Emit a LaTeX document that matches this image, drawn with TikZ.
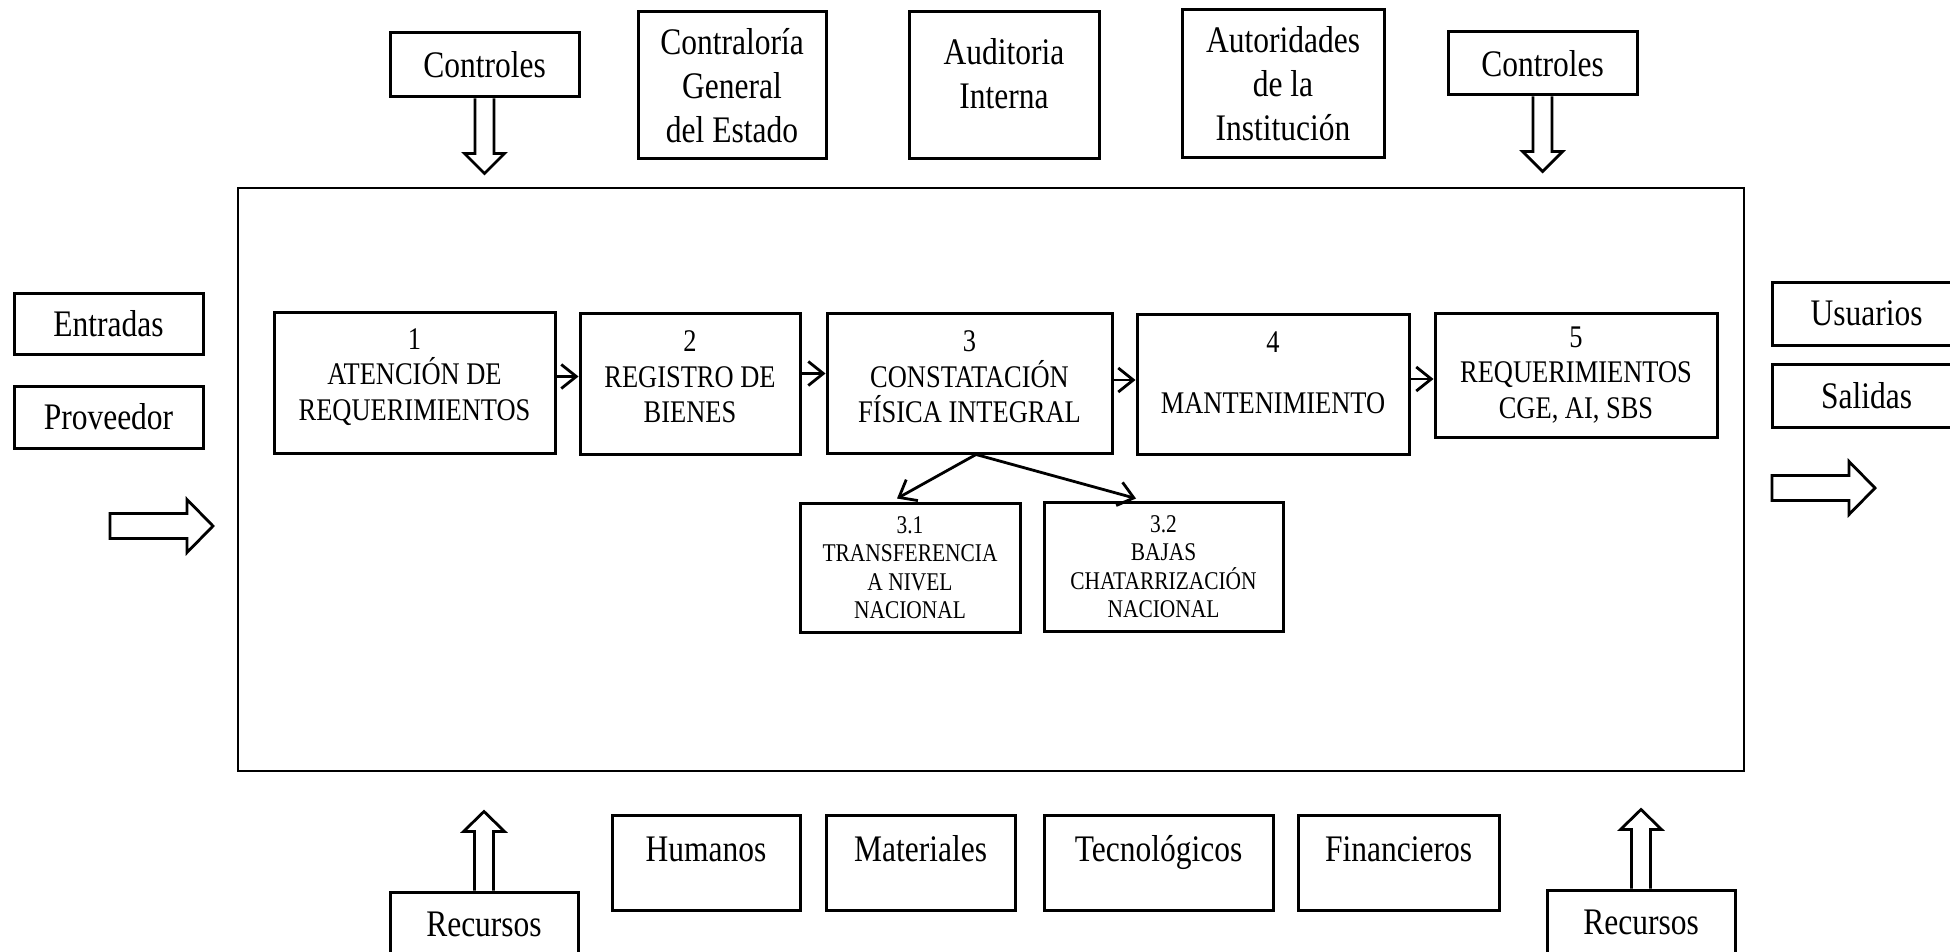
\documentclass[tikz,border=0pt]{standalone}
\usepackage{fontspec}
\setmainfont{Liberation Serif}[FakeStretch=0.84]
\usetikzlibrary{arrows.meta,calc}

\begin{document}
\begin{tikzpicture}[x=1pt,y=-1pt,
  bigfont/.style={font=\fontsize{37.5}{44}\selectfont},
  midfont/.style={font=\fontsize{31.5}{35.5}\selectfont},
  smallfont/.style={font=\fontsize{25.5}{28.5}\selectfont},
  box/.style={draw, line width=3pt, inner sep=0pt, align=center},
  outer/.style={box, bigfont},
  proc/.style={box, midfont},
  sub/.style={box, smallfont},
  plain/.style={inner sep=0pt, align=center},
  flow/.style={line width=2.8pt, -{Straight Barb[length=15pt,width=24pt,line width=2.8pt]}},
  hollow/.style={draw, line width=2.8pt, fill=white, line join=miter},
  pics/downarrow/.style={code={
    \draw[hollow] (-9.5,0) -- (-9.5,55) -- (-20,55) -- (0,75) -- (20,55) -- (9.5,55) -- (9.5,0);}},
  pics/uparrow/.style={code={
    \draw[hollow] (-9.5,0) -- (-9.5,-59) -- (-20.5,-59) -- (0,-79) -- (20.5,-59) -- (9.5,-59) -- (9.5,0);}},
  pics/rightarrow/.style={code={
    \draw[hollow] (0,-12.5) -- (77,-12.5) -- (77,-26.5) -- (103,0) -- (77,26.5) -- (77,12.5) -- (0,12.5) -- cycle;}},
]
\useasboundingbox (0,0) rectangle (1950,952);

% system boundary
\node[draw, line width=2.2pt, inner sep=0pt, minimum width=1506pt, minimum height=583pt] (sys) at (991,479.5) {};

% controls and supervising bodies
\node[outer, minimum width=189pt, minimum height=64pt] (ctlL) at (484.5,65) {Controles};
\node[outer, minimum width=188pt, minimum height=147pt] (cge) at (732,85.5) {Contraloría\\General\\del Estado};
\node[box, minimum width=190pt, minimum height=147pt] (aud) at (1004,85.5) {};
\node[plain, bigfont] (audT) at (1004,73.5) {Auditoria\\Interna};
\node[outer, minimum width=202pt, minimum height=148pt] (aut) at (1283,84) {Autoridades\\de la\\Institución};
\node[outer, minimum width=189pt, minimum height=63pt] (ctlR) at (1542.5,63.5) {Controles};
\pic at (ctlL.south) {downarrow};
\pic at (ctlR.south) {downarrow};

% inputs
\node[outer, minimum width=189pt, minimum height=61pt] (entr) at (108.5,323.5) {Entradas};
\node[outer, minimum width=189pt, minimum height=62pt] (prov) at (108.5,417) {Proveedor};
\pic at (110,526) {rightarrow};

% outputs
\node[outer, minimum width=189pt, minimum height=63pt] (usu) at (1866.5,313.5) {Usuarios};
\node[outer, minimum width=189pt, minimum height=63pt] (sal) at (1866.5,395.5) {Salidas};
\pic at (1772,488) {rightarrow};

% process steps
\node[box, minimum width=281pt, minimum height=141pt] (b1) at (414.5,382.5) {};
\node[plain, midfont] (b1T) at (414.5,377) {1\\ATENCIÓN DE\\REQUERIMIENTOS};
\node[box, minimum width=220pt, minimum height=141pt] (b2) at (690,383.5) {};
\node[plain, midfont] (b2T) at (690,377) {2\\REGISTRO DE\\BIENES};
\node[box, minimum width=285pt, minimum height=140pt] (b3) at (969.5,383) {};
\node[plain, midfont] (b3T) at (969.5,377) {3\\CONSTATACIÓN\\FÍSICA INTEGRAL};
\node[box, minimum width=272pt, minimum height=140pt] (b4) at (1273,384) {};
\node[plain, midfont] (b4T) at (1273,373) {4\\[26pt]MANTENIMIENTO};
\node[proc, minimum width=282pt, minimum height=124pt] (b5) at (1576,375) {5\\REQUERIMIENTOS\\CGE, AI, SBS};

\node[sub, minimum width=220pt, minimum height=129pt] (s31) at (910,567.5) {3.1\\TRANSFERENCIA\\A NIVEL\\NACIONAL};
\node[sub, minimum width=239pt, minimum height=129pt] (s32) at (1163.5,566.5) {3.2\\BAJAS\\CHATARRIZACIÓN\\NACIONAL};

\draw[flow] ([yshift=6pt]b1.east) -- ([yshift=6pt]b1.east -| b2.west);
\draw[flow] ([yshift=10pt]b2.east) -- ([yshift=10pt]b2.east -| b3.west);
\draw[flow] ([yshift=3pt]b3.east) -- ([yshift=3pt]b3.east -| b4.west);
\draw[flow] ([yshift=5pt]b4.east) -- ([yshift=5pt]b4.east -| b5.west);
\draw[flow] ([xshift=6.5pt]b3.south) -- ([xshift=-13pt,yshift=3pt]s31.north);
\draw[flow] ([xshift=6.5pt]b3.south) -- ([xshift=-27.5pt,yshift=2pt]s32.north);

% resources
\node[outer, minimum width=188pt, minimum height=64pt] (recL) at (484,924) {Recursos};
\pic at (recL.north) {uparrow};
\node[box, minimum width=188pt, minimum height=95pt] (hum) at (706,862.5) {};
\node[plain, bigfont, anchor=base] (humT) at (706,861) {Humanos};
\node[box, minimum width=189pt, minimum height=95pt] (mat) at (920.5,862.5) {};
\node[plain, bigfont, anchor=base] (matT) at (920.5,861) {Materiales};
\node[box, minimum width=229pt, minimum height=95pt] (tec) at (1158.5,862.5) {};
\node[plain, bigfont, anchor=base] (tecT) at (1158.5,861) {Tecnológicos};
\node[box, minimum width=201pt, minimum height=95pt] (fin) at (1398.5,862.5) {};
\node[plain, bigfont, anchor=base] (finT) at (1398.5,861) {Financieros};
\node[outer, minimum width=188pt, minimum height=64pt] (recR) at (1641,922) {Recursos};
\pic at (recR.north) {uparrow};
\end{tikzpicture}
\end{document}
